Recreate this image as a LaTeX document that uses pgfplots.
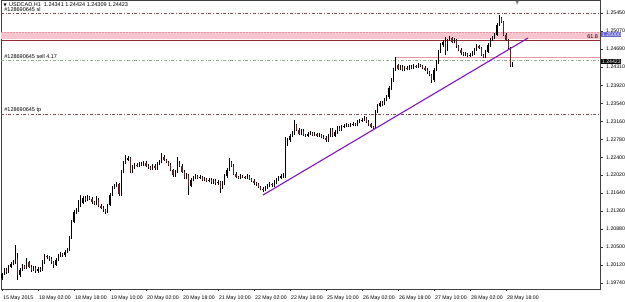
\documentclass[border=0pt]{standalone}
\usepackage{fontspec}
\setmainfont{Liberation Sans}
\newfontfamily\dejavu{DejaVu Sans}
\usepackage{pgfplots}
\usepackage{pgfplotstable}
\pgfplotsset{compat=1.18}
\definecolor{sltp}{RGB}{125,80,80}
\definecolor{sellg}{RGB}{140,175,140}
\definecolor{bandpink}{RGB}{248,196,206}
\definecolor{bandedge}{RGB}{230,150,165}
\definecolor{fibred}{RGB}{150,40,50}
\definecolor{boxpink}{RGB}{235,150,165}
\definecolor{trend}{RGB}{128,20,190}
\definecolor{bear}{RGB}{95,35,35}
\definecolor{tagblue}{RGB}{100,100,210}
\pgfplotstableread{
i o h l c
0 1.1985 1.1995 1.1980 1.1993
1 1.1993 1.2005 1.1990 1.2002
2 1.2002 1.2006 1.1994 1.1997
3 1.1997 1.2011 1.1995 1.2008
4 1.2008 1.2018 1.2005 1.2014
5 1.2014 1.2022 1.2011 1.2018
6 1.2018 1.2054 1.2015 1.2027
7 1.2027 1.2037 1.1980 1.1991
8 1.1991 1.2006 1.1987 1.2002
9 1.2002 1.2014 1.1999 1.2010
10 1.2010 1.2013 1.2003 1.2006
11 1.2006 1.2027 1.2003 1.2018
12 1.2018 1.2021 1.2005 1.2008
13 1.2008 1.2011 1.1998 1.2002
14 1.2002 1.2009 1.1999 1.2006
15 1.2006 1.2009 1.1995 1.1999
16 1.1999 1.2008 1.1996 1.2004
17 1.2004 1.2007 1.1998 1.2002
18 1.2002 1.2022 1.1999 1.2018
19 1.2018 1.2035 1.2015 1.2031
20 1.2031 1.2034 1.2025 1.2029
21 1.2029 1.2032 1.2021 1.2025
22 1.2025 1.2028 1.2015 1.2018
23 1.2018 1.2021 1.2006 1.2012
24 1.2012 1.2027 1.2009 1.2023
25 1.2023 1.2035 1.2020 1.2031
26 1.2031 1.2039 1.2028 1.2035
27 1.2035 1.2038 1.2030 1.2033
28 1.2033 1.2043 1.2030 1.2040
29 1.2040 1.2048 1.2037 1.2044
30 1.2044 1.2073 1.2041 1.2069
31 1.2069 1.2107 1.2066 1.2103
32 1.2103 1.2128 1.2100 1.2124
33 1.2124 1.2132 1.2120 1.2128
34 1.2128 1.2150 1.2125 1.2137
35 1.2137 1.2160 1.2134 1.2143
36 1.2143 1.2158 1.2140 1.2154
37 1.2154 1.2157 1.2146 1.2150
38 1.2150 1.2160 1.2147 1.2156
39 1.2156 1.2159 1.2149 1.2152
40 1.2152 1.2155 1.2142 1.2145
41 1.2145 1.2148 1.2138 1.2141
42 1.2141 1.2158 1.2138 1.2150
43 1.2150 1.2153 1.2134 1.2137
44 1.2137 1.2140 1.2130 1.2133
45 1.2133 1.2136 1.2125 1.2128
46 1.2128 1.2131 1.2120 1.2124
47 1.2124 1.2142 1.2121 1.2139
48 1.2139 1.2164 1.2136 1.2160
49 1.2160 1.2179 1.2157 1.2175
50 1.2175 1.2183 1.2172 1.2179
51 1.2179 1.2187 1.2176 1.2183
52 1.2183 1.2186 1.2159 1.2162
53 1.2162 1.2213 1.2159 1.2209
54 1.2209 1.2232 1.2206 1.2228
55 1.2228 1.2245 1.2225 1.2234
56 1.2234 1.2242 1.2231 1.2238
57 1.2238 1.2241 1.2206 1.2209
58 1.2209 1.2223 1.2206 1.2219
59 1.2219 1.2228 1.2216 1.2224
60 1.2224 1.2227 1.2219 1.2222
61 1.2222 1.2230 1.2219 1.2226
62 1.2226 1.2229 1.2221 1.2224
63 1.2224 1.2232 1.2221 1.2228
64 1.2228 1.2231 1.2219 1.2222
65 1.2222 1.2225 1.2216 1.2219
66 1.2219 1.2222 1.2212 1.2215
67 1.2215 1.2226 1.2212 1.2222
68 1.2222 1.2225 1.2214 1.2217
69 1.2217 1.2230 1.2214 1.2226
70 1.2226 1.2234 1.2223 1.2230
71 1.2230 1.2249 1.2227 1.2241
72 1.2241 1.2244 1.2231 1.2234
73 1.2234 1.2237 1.2227 1.2230
74 1.2230 1.2233 1.2221 1.2224
75 1.2224 1.2227 1.2210 1.2213
76 1.2213 1.2216 1.2199 1.2202
77 1.2202 1.2213 1.2199 1.2209
78 1.2209 1.2241 1.2206 1.2228
79 1.2228 1.2231 1.2219 1.2222
80 1.2222 1.2225 1.2206 1.2209
81 1.2209 1.2212 1.2193 1.2196
82 1.2196 1.2206 1.2193 1.2202
83 1.2202 1.2205 1.2160 1.2179
84 1.2179 1.2196 1.2176 1.2192
85 1.2192 1.2200 1.2189 1.2196
86 1.2196 1.2204 1.2193 1.2200
87 1.2200 1.2203 1.2193 1.2196
88 1.2196 1.2202 1.2193 1.2198
89 1.2198 1.2201 1.2189 1.2192
90 1.2192 1.2198 1.2189 1.2194
91 1.2194 1.2197 1.2187 1.2190
92 1.2190 1.2196 1.2187 1.2192
93 1.2192 1.2195 1.2184 1.2187
94 1.2187 1.2194 1.2184 1.2190
95 1.2190 1.2193 1.2182 1.2185
96 1.2185 1.2191 1.2182 1.2187
97 1.2187 1.2190 1.2164 1.2175
98 1.2175 1.2189 1.2172 1.2185
99 1.2185 1.2204 1.2182 1.2200
100 1.2200 1.2217 1.2197 1.2213
101 1.2213 1.2238 1.2210 1.2230
102 1.2230 1.2233 1.2219 1.2222
103 1.2222 1.2225 1.2202 1.2205
104 1.2205 1.2208 1.2195 1.2198
105 1.2198 1.2201 1.2193 1.2196
106 1.2196 1.2204 1.2193 1.2200
107 1.2200 1.2203 1.2195 1.2198
108 1.2198 1.2201 1.2193 1.2196
109 1.2196 1.2204 1.2193 1.2200
110 1.2200 1.2203 1.2191 1.2194
111 1.2194 1.2197 1.2187 1.2190
112 1.2190 1.2193 1.2182 1.2185
113 1.2185 1.2188 1.2180 1.2183
114 1.2183 1.2186 1.2174 1.2177
115 1.2177 1.2180 1.2170 1.2173
116 1.2173 1.2176 1.2166 1.2171
117 1.2171 1.2179 1.2168 1.2175
118 1.2175 1.2183 1.2172 1.2179
119 1.2179 1.2187 1.2176 1.2183
120 1.2183 1.2186 1.2178 1.2181
121 1.2181 1.2191 1.2178 1.2187
122 1.2187 1.2196 1.2184 1.2192
123 1.2192 1.2200 1.2189 1.2196
124 1.2196 1.2204 1.2193 1.2200
125 1.2200 1.2206 1.2196 1.2200
126 1.2200 1.2283 1.2197 1.2266
127 1.2266 1.2280 1.2263 1.2276
128 1.2276 1.2289 1.2273 1.2285
129 1.2285 1.2295 1.2282 1.2291
130 1.2291 1.2319 1.2288 1.2308
131 1.2308 1.2311 1.2295 1.2298
132 1.2298 1.2301 1.2286 1.2289
133 1.2289 1.2300 1.2286 1.2296
134 1.2296 1.2299 1.2284 1.2287
135 1.2287 1.2290 1.2282 1.2285
136 1.2285 1.2293 1.2282 1.2289
137 1.2289 1.2295 1.2286 1.2291
138 1.2291 1.2294 1.2284 1.2287
139 1.2287 1.2293 1.2284 1.2289
140 1.2289 1.2292 1.2282 1.2285
141 1.2285 1.2291 1.2282 1.2287
142 1.2287 1.2290 1.2280 1.2283
143 1.2283 1.2286 1.2278 1.2281
144 1.2281 1.2284 1.2272 1.2276
145 1.2276 1.2289 1.2273 1.2285
146 1.2285 1.2302 1.2282 1.2298
147 1.2298 1.2301 1.2282 1.2285
148 1.2285 1.2297 1.2282 1.2293
149 1.2293 1.2306 1.2290 1.2302
150 1.2302 1.2305 1.2295 1.2298
151 1.2298 1.2308 1.2295 1.2304
152 1.2304 1.2310 1.2301 1.2306
153 1.2306 1.2312 1.2303 1.2308
154 1.2308 1.2311 1.2303 1.2306
155 1.2306 1.2312 1.2303 1.2308
156 1.2308 1.2314 1.2305 1.2310
157 1.2310 1.2313 1.2305 1.2308
158 1.2308 1.2319 1.2305 1.2315
159 1.2315 1.2321 1.2312 1.2317
160 1.2317 1.2323 1.2314 1.2319
161 1.2319 1.2327 1.2316 1.2323
162 1.2323 1.2326 1.2312 1.2315
163 1.2315 1.2318 1.2307 1.2310
164 1.2310 1.2313 1.2301 1.2304
165 1.2304 1.2307 1.2300 1.2302
166 1.2302 1.2340 1.2299 1.2336
167 1.2336 1.2353 1.2333 1.2349
168 1.2349 1.2359 1.2346 1.2355
169 1.2355 1.2358 1.2349 1.2353
170 1.2353 1.2365 1.2350 1.2361
171 1.2361 1.2371 1.2358 1.2367
172 1.2367 1.2390 1.2364 1.2386
173 1.2386 1.2407 1.2383 1.2403
174 1.2403 1.2429 1.2400 1.2425
175 1.2425 1.2452 1.2422 1.2435
176 1.2435 1.2438 1.2424 1.2427
177 1.2427 1.2435 1.2424 1.2431
178 1.2431 1.2434 1.2422 1.2425
179 1.2425 1.2433 1.2422 1.2429
180 1.2429 1.2432 1.2424 1.2427
181 1.2427 1.2435 1.2424 1.2431
182 1.2431 1.2434 1.2426 1.2429
183 1.2429 1.2437 1.2426 1.2433
184 1.2433 1.2436 1.2428 1.2431
185 1.2431 1.2439 1.2428 1.2435
186 1.2435 1.2438 1.2430 1.2433
187 1.2433 1.2436 1.2426 1.2429
188 1.2429 1.2432 1.2422 1.2425
189 1.2425 1.2428 1.2417 1.2420
190 1.2420 1.2423 1.2411 1.2414
191 1.2414 1.2417 1.2397 1.2403
192 1.2403 1.2429 1.2400 1.2425
193 1.2425 1.2445 1.2422 1.2441
194 1.2441 1.2467 1.2438 1.2463
195 1.2463 1.2481 1.2460 1.2477
196 1.2477 1.2488 1.2474 1.2484
197 1.2484 1.2494 1.2456 1.2467
198 1.2467 1.2491 1.2464 1.2488
199 1.2488 1.2496 1.2485 1.2492
200 1.2492 1.2495 1.2481 1.2484
201 1.2484 1.2492 1.2481 1.2488
202 1.2488 1.2491 1.2472 1.2475
203 1.2475 1.2478 1.2464 1.2467
204 1.2467 1.2470 1.2457 1.2460
205 1.2460 1.2463 1.2453 1.2456
206 1.2456 1.2462 1.2453 1.2458
207 1.2458 1.2461 1.2451 1.2454
208 1.2454 1.2460 1.2451 1.2456
209 1.2456 1.2464 1.2453 1.2460
210 1.2460 1.2471 1.2457 1.2467
211 1.2467 1.2479 1.2464 1.2475
212 1.2475 1.2478 1.2468 1.2471
213 1.2471 1.2474 1.2453 1.2456
214 1.2456 1.2459 1.2449 1.2452
215 1.2452 1.2467 1.2449 1.2463
216 1.2463 1.2481 1.2460 1.2477
217 1.2477 1.2492 1.2474 1.2488
218 1.2488 1.2496 1.2485 1.2492
219 1.2492 1.2503 1.2489 1.2499
220 1.2499 1.2524 1.2496 1.2520
221 1.2520 1.2541 1.2517 1.2534
222 1.2534 1.2537 1.2523 1.2526
223 1.2526 1.2529 1.2496 1.2499
224 1.2499 1.2502 1.2485 1.2488
225 1.2488 1.2491 1.2468 1.2471
226 1.2471 1.2474 1.2431 1.2434
227 1.24341 1.24424 1.24309 1.24423
}\ohlc
\begin{document}
\begin{tikzpicture}
\begin{axis}[
  at={(0,0)}, anchor=south west,
  scale only axis, width=599pt, height=289pt,
  xmin=-0.44, xmax=265.8, ymin=1.19613, ymax=1.25725,
  axis line style={black!75, line width=0.6pt},
  xtick={0,16,...,224},
  xticklabels={15 May 2015, 18 May 02:00, 18 May 18:00, 19 May 10:00, 20 May 02:00, 20 May 18:00, 21 May 10:00, 22 May 02:00, 22 May 18:00, 25 May 10:00, 26 May 02:00, 26 May 18:00, 27 May 10:00, 28 May 02:00, 28 May 18:00},
  ytick={1.1974,1.2012,1.2050,1.2088,1.2126,1.2164,1.2202,1.2240,1.2278,1.2316,1.2354,1.2392,1.2431,1.2469,1.2507,1.2545},
  yticklabels={1.19740,1.20120,1.20500,1.20880,1.21260,1.21640,1.22020,1.22400,1.22780,1.23160,1.23540,1.23920,1.24310,1.24690,1.25070,1.25450},
  xtick pos=bottom, ytick pos=right, yticklabel pos=right,
  tick align=outside, major tick length=2.5pt,
  tick style={black!80, line width=0.5pt},
  ticklabel style={font=\fontsize{5.2}{6}\selectfont, inner sep=0pt},
  xticklabel style={anchor=north west, xshift=1pt, yshift=-4pt},
  yticklabel style={anchor=west, xshift=3.5pt},
  clip mode=individual,
]
% pink band and levels
\addplot[fill=bandpink, draw=none, forget plot] coordinates {(-0.44,1.2489) (265.8,1.2489) (265.8,1.2505) (-0.44,1.2505)} -- cycle;
\addplot[bandedge, densely dotted, line width=0.5pt, forget plot] coordinates {(-0.44,1.2505) (265.8,1.2505)};
\addplot[fibred, line width=0.8pt, forget plot] coordinates {(-0.44,1.2488) (265.8,1.2488)};
\addplot[sltp, dash dot, line width=0.5pt, forget plot] coordinates {(-0.44,1.2545) (265.8,1.2545)};
\addplot[sltp, dash dot, line width=0.5pt, forget plot] coordinates {(-0.44,1.2330) (265.8,1.2330)};
\addplot[sellg, dash dot, line width=0.6pt, forget plot] coordinates {(-0.44,1.2446) (265.8,1.2446)};
\addplot[boxpink, line width=0.7pt, forget plot] coordinates {(175,1.2440) (175,1.2452) (265.8,1.2452)};
% wicks
\addplot[draw=none, mark=none, forget plot, error bars/.cd, y dir=plus, y explicit, error mark=none, error bar style={draw=black, line width=0.5pt}]
  table[x=i, y=l, y error plus expr=\thisrow{h}-\thisrow{l}] {\ohlc};
% bull bodies
\addplot[draw=none, mark=none, forget plot, restrict expr to domain={\thisrow{c}-\thisrow{o}}{0:1}, error bars/.cd, y dir=plus, y explicit, error mark=none, error bar style={draw=black, line width=1.4pt}]
  table[x=i, y=o, y error plus expr=\thisrow{c}-\thisrow{o}] {\ohlc};
% bear bodies
\addplot[draw=none, mark=none, forget plot, restrict expr to domain={\thisrow{o}-\thisrow{c}}{0.00001:1}, error bars/.cd, y dir=plus, y explicit, error mark=none, error bar style={draw=bear, line width=1.4pt}]
  table[x=i, y=c, y error plus expr=\thisrow{o}-\thisrow{c}] {\ohlc};
% trend line
\addplot[trend, line width=1.1pt, forget plot] coordinates {(116,1.2160) (233.8,1.2492)};
% texts
\node[anchor=west, inner sep=0pt, font=\fontsize{5.5}{6}\selectfont] at (rel axis cs:0.004,0.983) {{\dejavu\fontsize{4}{4}\selectfont ▼}\, USDCAD,H1\ \ 1.24341 1.24424 1.24309 1.24423};
\node[anchor=south west, inner sep=0pt, font=\fontsize{5.5}{6}\selectfont] at (axis cs:1,1.2547) {\#128690645 sl};
\node[anchor=south west, inner sep=0pt, font=\fontsize{5.5}{6}\selectfont] at (axis cs:1,1.2449) {\#128690645 sell 4.17};
\node[anchor=south west, inner sep=0pt, font=\fontsize{5.5}{6}\selectfont] at (axis cs:1,1.2333) {\#128690645 tp};
\node[anchor=south east, inner sep=0pt, font=\fontsize{5.5}{6}\selectfont] at (axis cs:265,1.2490) {61.8};
\node[anchor=west, fill=tagblue, text=white, inner sep=0.6pt, font=\fontsize{5.2}{6}\selectfont] at (axis cs:266.3,1.2500) {1.25000};
\node[anchor=west, fill=black, text=white, inner sep=0.6pt, font=\fontsize{5.2}{6}\selectfont] at (axis cs:266.3,1.24423) {1.24423};
\node[inner sep=0pt, text=black!50, font=\dejavu\fontsize{5}{5}\selectfont] at (axis cs:229,1.2566) {▼};
\end{axis}
\pgfresetboundingbox
\path (-1pt,-13pt) rectangle (624pt,289pt);
\end{tikzpicture}
\end{document}
